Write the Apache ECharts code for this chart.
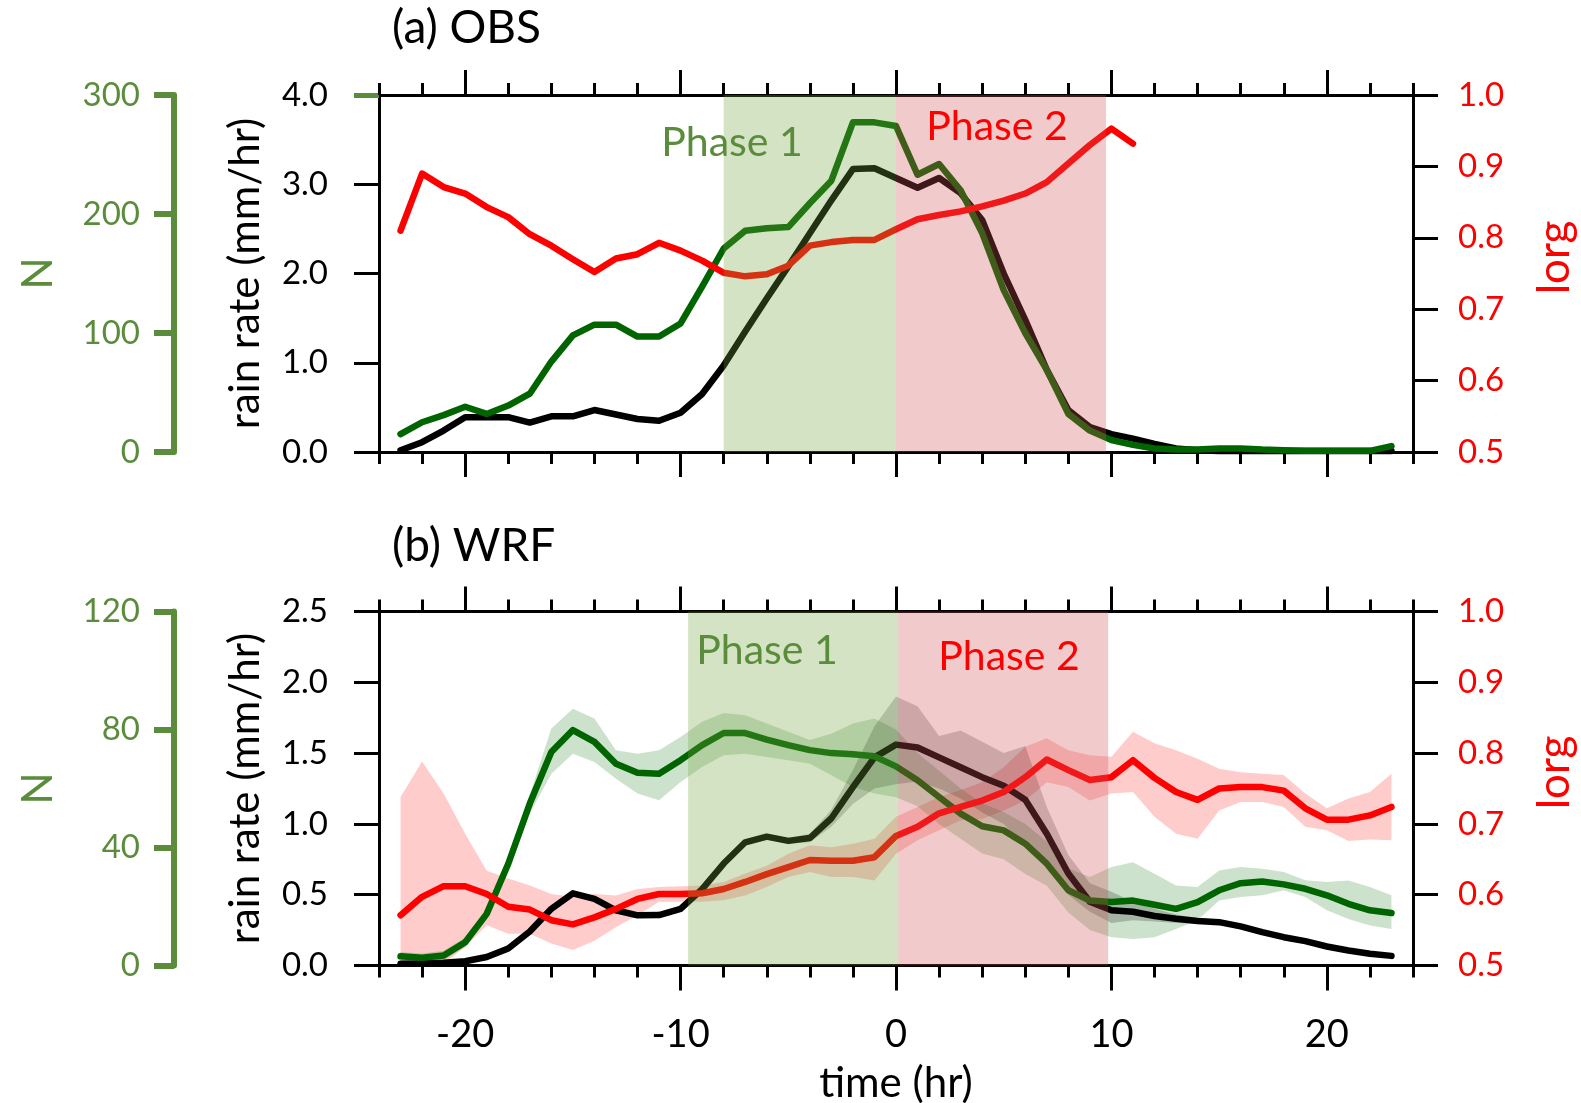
<!DOCTYPE html>
<html><head><meta charset="utf-8">
<script src="https://cdn.jsdelivr.net/npm/echarts@6/dist/echarts.min.js"></script>
<style>html,body{margin:0;padding:0;background:#fff}#c{width:1581px;height:1103px}</style>
</head><body><div id="c"></div>
<script>
// ---------- data ----------
const hours = [-23,-22,-21,-20,-19,-18,-17,-16,-15,-14,-13,-12,-11,-10,-9,-8,-7,-6,-5,-4,-3,-2,-1,
  0,1,2,3,4,5,6,7,8,9,10,11,12,13,14,15,16,17,18,19,20,21,22,23];
const obsLorgHours = [-23,-22,-21,-20,-19,-18,-17,-16,-15,-14,-13,-12,-11,-10,-9,-8,-7,-6,-5,-4,-3,-2,-1,
  0,1,2,3,4,5,6,7,8,9,10,11];

// (a) OBS
const obsRain = [0.02,0.11,0.24,0.39,0.39,0.39,0.33,0.40,0.40,0.47,0.42,0.37,0.35,0.44,0.65,0.97,1.35,1.72,2.08,2.45,2.82,3.17,3.18,
  3.07,2.96,3.07,2.90,2.60,2.00,1.48,0.92,0.47,0.28,0.20,0.15,0.09,0.04,0.02,0.01,0.01,0.01,0.01,0.01,0.01,0.01,0.01,0.01];
const obsN = [15,25,31,38,32,39,49,76,98,107,107,97,97,108,139,171,186,188,189,209,228,277,277,
  274,233,242,220,184,136,100,69,32,18,10,6,3,2,2,3,3,2,1.5,1,1,1,1,5];
const obsLorg = [0.810,0.890,0.871,0.862,0.843,0.829,0.805,0.789,0.770,0.752,0.771,0.777,0.793,0.782,0.768,0.751,0.746,0.749,0.761,0.789,0.794,0.797,0.797,
  0.812,0.826,0.832,0.837,0.844,0.852,0.862,0.878,0.904,0.930,0.953,0.932];

// (b) WRF
const wrfRain = [0.012,0.015,0.02,0.03,0.06,0.12,0.24,0.40,0.51,0.47,0.39,0.354,0.356,0.40,0.54,0.72,0.87,0.91,0.88,0.90,1.04,1.26,1.47,
  1.56,1.54,1.47,1.40,1.33,1.27,1.17,0.93,0.65,0.45,0.39,0.38,0.35,0.33,0.314,0.306,0.276,0.236,0.20,0.172,0.134,0.106,0.083,0.068];
const wrfRainHi = [0.025,0.03,0.035,0.045,0.08,0.14,0.26,0.42,0.53,0.49,0.41,0.37,0.375,0.42,0.56,0.74,0.89,0.93,0.90,0.93,1.10,1.38,1.69,
  1.90,1.83,1.62,1.66,1.58,1.50,1.55,1.12,0.78,0.58,0.52,0.45,0.40,0.36,0.335,0.325,0.295,0.255,0.22,0.19,0.15,0.12,0.10,0.085];
const wrfRainLo = [0.0,0.0,0.005,0.015,0.04,0.10,0.22,0.38,0.49,0.45,0.37,0.335,0.335,0.38,0.52,0.70,0.85,0.89,0.86,0.87,0.98,1.14,1.25,
  1.28,1.30,1.25,1.18,1.08,1.00,0.85,0.70,0.50,0.38,0.30,0.32,0.31,0.30,0.295,0.29,0.26,0.22,0.18,0.155,0.12,0.09,0.068,0.053];
const wrfN = [3.1,2.6,3.4,7.9,17.5,34.5,54.9,72.4,79.8,75.8,68.4,65.3,65,69.6,74.7,78.8,78.8,76.6,74.7,73,72,71.6,70.9,
  67.5,62.8,57.1,51.5,47.2,45.8,41.3,34.5,25.5,22,21.5,22,20.6,19.2,21.5,25.5,27.9,28.5,27.5,26,23.8,20.9,18.7,17.8];
const wrfNHi = [4.6,4.1,5,9.5,19.5,37,58,80.3,87,83.7,73,71.8,73,77.5,82.6,85.6,84.8,82,79.2,76.4,78.6,82,83.7,
  80,72,66,60,55,52,48,42,33,30,33.4,35,31.1,27.1,26.6,32.2,33.4,32.8,31.7,28.9,28.3,28.8,26.6,23.8];
const wrfNLo = [1.6,1.1,1.8,6.3,15.5,32,51.5,65,71.8,69,63.3,58.3,56,62.2,67.3,71.3,71.8,70.7,69.6,68.4,64.5,60.5,58.3,
  57,54,48,43,38,36,31,27,18,12,9.6,9,9.6,12.4,15.3,22,23.2,23.8,25.5,23.2,18.7,15.8,13.6,12.4];
const wrfLorg = [0.571,0.597,0.612,0.612,0.601,0.583,0.579,0.564,0.558,0.568,0.580,0.594,0.601,0.601,0.602,0.608,0.618,0.629,0.639,0.649,0.648,0.648,0.653,
  0.683,0.696,0.715,0.724,0.733,0.745,0.766,0.791,0.776,0.762,0.766,0.790,0.765,0.745,0.734,0.750,0.752,0.752,0.747,0.722,0.706,0.706,0.712,0.724];
const wrfLorgHi = [0.738,0.788,0.743,0.686,0.634,0.623,0.613,0.601,0.597,0.601,0.599,0.608,0.611,0.612,0.613,0.618,0.630,0.641,0.658,0.670,0.667,0.672,0.679,
  0.710,0.724,0.738,0.748,0.759,0.780,0.809,0.821,0.804,0.797,0.795,0.830,0.814,0.804,0.792,0.778,0.773,0.771,0.769,0.743,0.722,0.736,0.745,0.771];
const wrfLorgLo = [0.502,0.502,0.503,0.526,0.557,0.545,0.545,0.531,0.522,0.535,0.554,0.571,0.590,0.590,0.590,0.592,0.599,0.611,0.625,0.632,0.625,0.625,0.620,
  0.658,0.677,0.691,0.705,0.707,0.719,0.733,0.759,0.752,0.733,0.743,0.745,0.710,0.686,0.679,0.719,0.731,0.731,0.724,0.696,0.691,0.676,0.678,0.677];

// phases [start, end] in hours
const obsPhase1 = [-8, 0];
const obsPhase2 = [0, 9.75];
const wrfPhase1 = [-9.65, 0.1];
const wrfPhase2 = [0.1, 9.85];

// tick labels
const xMajorTicks = [-20, -10, 0, 10, 20];
const nTopTickObs = [300];

// ---------- styling ----------
const FONT = 'Lato';
const GREEN_AX = '#5a8c3c';
const LINE_W = 6.5;

function pairs(xs, ys) { return xs.map((x, i) => [x, ys[i]]); }

function xMinor(g, pos) {
  return {type:'value', gridIndex:g, position:pos, min:-24, max:24, interval:2,
    axisLine:{show:true, onZero:false, lineStyle:{color:'#000', width:3}},
    axisTick:{show:true, length:12, lineStyle:{color:'#000', width:3}},
    axisLabel:{show:false}, splitLine:{show:false}};
}
function xMajor(g, pos, labels) {
  const a = {type:'value', gridIndex:g, position:pos, min:-24, max:24,
    axisLine:{show:false, onZero:false},
    axisTick:{show:true, customValues:xMajorTicks, length:25, lineStyle:{color:'#000', width:3}},
    axisLabel:{show:labels, customValues:xMajorTicks, fontSize:38, fontFamily:FONT, color:'#000', margin:50},
    splitLine:{show:false}};
  if (labels) {
    a.name = 'time (hr)'; a.nameLocation = 'middle'; a.nameGap = 97;
    a.nameTextStyle = {fontSize:42, fontFamily:FONT, color:'#000'};
  }
  return a;
}
function rainAxis(g, max, interval) {
  return {type:'value', gridIndex:g, position:'left', min:0, max:max, interval:interval,
    axisLine:{show:true, onZero:false, lineStyle:{color:'#000', width:3}},
    axisTick:{show:true, length:25, lineStyle:{color:'#000', width:3}},
    axisLabel:{formatter:v => v.toFixed(1), fontSize:33, fontFamily:FONT, color:'#000', margin:51},
    splitLine:{show:false},
    name:'rain rate (mm/hr)', nameLocation:'middle', nameGap:113,
    nameTextStyle:{fontSize:42, fontFamily:FONT, color:'#000'}};
}
function lorgAxis(g) {
  return {type:'value', gridIndex:g, position:'right', min:0.5, max:1.0, interval:0.1,
    axisLine:{show:true, onZero:false, lineStyle:{color:'#000', width:3}},
    axisTick:{show:true, length:25, lineStyle:{color:'#000', width:3}},
    axisLabel:{formatter:v => v.toFixed(1), fontSize:33, fontFamily:FONT, color:'#ff0000', margin:45},
    splitLine:{show:false},
    name:'lorg', nameLocation:'middle', nameGap:120,
    nameTextStyle:{fontSize:44, fontFamily:FONT, color:'#ff0000', padding:[0,0,0,32]}};
}
function nAxis(g, max, interval) {
  return {type:'value', gridIndex:g, position:'left', offset:205, min:0, max:max, interval:interval,
    axisLine:{show:true, onZero:false, lineStyle:{color:GREEN_AX, width:6}},
    axisTick:{show:true, length:20, lineStyle:{color:GREEN_AX, width:6}},
    axisLabel:{fontSize:33, fontFamily:FONT, color:GREEN_AX, margin:34},
    splitLine:{show:false},
    name:'N', nameLocation:'middle', nameGap:115,
    nameTextStyle:{fontSize:42, fontFamily:FONT, color:GREEN_AX}};
}

function band(xi, yi, lo, hi, color) {
  return {type:'custom', xAxisIndex:xi, yAxisIndex:yi, silent:true, z:1,
    data: hours.map((t, i) => [t, lo[i], hi[i]]),
    encode:{x:0, y:[1,2]},
    renderItem: function (params, api) {
      if (params.dataIndex !== 0) return null;
      const n = params.dataInsideLength;
      const up = [], dn = [];
      for (let i = 0; i < n; i++) {
        const t = api.value(0, i);
        up.push(api.coord([t, api.value(2, i)]));
        dn.push(api.coord([t, api.value(1, i)]));
      }
      return {type:'polygon', shape:{points: up.concat(dn.reverse())}, style:{fill:color}};
    }};
}
function line(xi, yi, data, color, z) {
  return {type:'line', xAxisIndex:xi, yAxisIndex:yi, data:data, symbol:'none', silent:true, z:z,
    lineStyle:{color:color, width:LINE_W, cap:'round', join:'round'}};
}
function phases(xi, yi, p1, p2) {
  return {type:'line', xAxisIndex:xi, yAxisIndex:yi, data:[], z:10, silent:true,
    markArea:{silent:true, z:10, data:[
      [{xAxis:p1[0], itemStyle:{color:'rgba(115,162,62,0.3)'}}, {xAxis:p1[1]}],
      [{xAxis:p2[0], itemStyle:{color:'rgba(208,78,82,0.3)'}}, {xAxis:p2[1]}]
    ]}};
}

const option = {
  animation:false,
  backgroundColor:'#fff',
  textStyle:{fontFamily:FONT},
  grid:[
    {left:379, top:95, width:1034, height:357, outerBoundsMode:'none', containLabel:false},
    {left:379, top:611.5, width:1034, height:354, outerBoundsMode:'none', containLabel:false}
  ],
  xAxis:[
    xMinor(0,'bottom'), xMajor(0,'bottom',false), xMinor(0,'top'), xMajor(0,'top',false),
    xMinor(1,'bottom'), xMajor(1,'bottom',true), xMinor(1,'top'), xMajor(1,'top',false)
  ],
  yAxis:[
    rainAxis(0, 4, 1), lorgAxis(0), nAxis(0, 300, 100),
    {type:'value', gridIndex:0, position:'left', min:0, max:300,
      axisLine:{show:false, onZero:false},
      axisTick:{show:true, customValues:nTopTickObs, length:25, lineStyle:{color:GREEN_AX, width:5}},
      axisLabel:{show:false}, splitLine:{show:false}},
    rainAxis(1, 2.5, 0.5), lorgAxis(1), nAxis(1, 120, 40)
  ],
  graphic:[
    {type:'text', x:392, y:28, z:100, style:{text:'(a) OBS', fontSize:46, fontFamily:FONT, fill:'#000', align:'left', verticalAlign:'middle'}},
    {type:'text', x:392, y:546, z:100, style:{text:'(b) WRF', fontSize:46, fontFamily:FONT, fill:'#000', align:'left', verticalAlign:'middle'}},
    {type:'text', x:732, y:143, z:100, style:{text:'Phase 1', fontSize:41, fontFamily:FONT, fill:GREEN_AX, align:'center', verticalAlign:'middle'}},
    {type:'text', x:997, y:127, z:100, style:{text:'Phase 2', fontSize:41, fontFamily:FONT, fill:'#ff0000', align:'center', verticalAlign:'middle'}},
    {type:'text', x:767, y:651, z:100, style:{text:'Phase 1', fontSize:41, fontFamily:FONT, fill:GREEN_AX, align:'center', verticalAlign:'middle'}},
    {type:'text', x:1009, y:657, z:100, style:{text:'Phase 2', fontSize:41, fontFamily:FONT, fill:'#ff0000', align:'center', verticalAlign:'middle'}}
  ],
  series:[
    // (a)
    line(0, 0, pairs(hours, obsRain), '#000000', 3),
    line(0, 2, pairs(hours, obsN), '#006400', 4),
    line(0, 1, pairs(obsLorgHours, obsLorg), '#ff0000', 5),
    phases(0, 0, obsPhase1, obsPhase2),
    // (b)
    band(4, 5, wrfLorgLo, wrfLorgHi, 'rgba(255,0,0,0.2)'),
    band(4, 6, wrfNLo, wrfNHi, 'rgba(0,110,0,0.2)'),
    band(4, 4, wrfRainLo, wrfRainHi, 'rgba(0,0,0,0.2)'),
    line(4, 4, pairs(hours, wrfRain), '#000000', 3),
    line(4, 6, pairs(hours, wrfN), '#006400', 4),
    line(4, 5, pairs(hours, wrfLorg), '#ff0000', 5),
    phases(4, 4, wrfPhase1, wrfPhase2)
  ]
};

const chart = echarts.init(document.getElementById('c'), null, {renderer:'canvas', width:1581, height:1103});
chart.setOption(option);
</script>
</body></html>
